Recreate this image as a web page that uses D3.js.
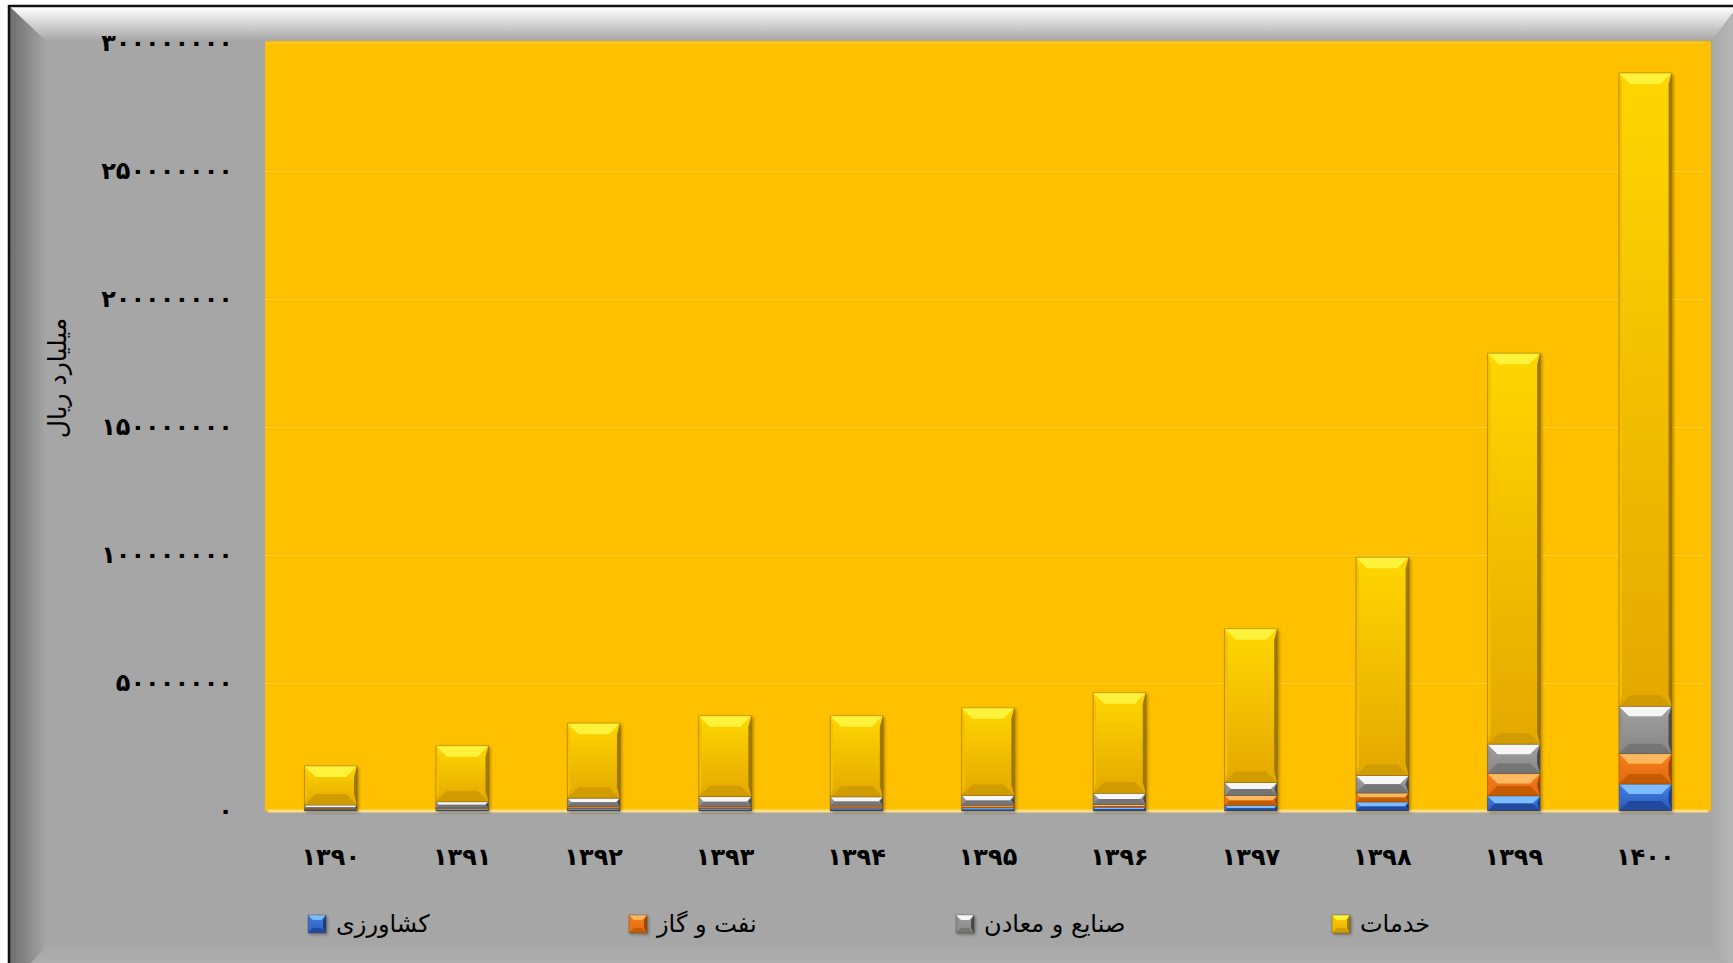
<!DOCTYPE html>
<html>
<head>
<meta charset="utf-8">
<script src="https://cdn.jsdelivr.net/npm/d3@7"></script>
<style>
  body { margin: 0; background: #fff; }
  svg { display: block; font-family: "DejaVu Sans", sans-serif; }
</style>
</head>
<body>
<div id="chart"></div>
<script>
// Data (billion rial)
var years = ["۱۳۹۰", "۱۳۹۱", "۱۳۹۲", "۱۳۹۳", "۱۳۹۴", "۱۳۹۵", "۱۳۹۶", "۱۳۹۷", "۱۳۹۸", "۱۳۹۹", "۱۴۰۰"];
var keshavarzi = [600000, 800000, 1000000, 1000000, 1100000, 1200000, 1500000, 2200000, 3500000, 5900000, 10500000];
var naftGaz = [300000, 400000, 800000, 700000, 800000, 1000000, 1000000, 3900000, 3500000, 8700000, 11900000];
var sanaye = [1400000, 2400000, 3200000, 3900000, 3600000, 3900000, 4400000, 5000000, 6900000, 11500000, 18500000];
var khadamat = [15300000, 21900000, 29300000, 31600000, 31700000, 34200000, 39300000, 60100000, 85200000, 152700000, 247400000];
var seriesKeys = ["keshavarzi", "naftGaz", "sanaye", "khadamat"];
var seriesNames = ["کشاورزی", "نفت و گاز", "صنایع و معادن", "خدمات"];
var yTicks = [0, 50000000, 100000000, 150000000, 200000000, 250000000, 300000000];
var yLabel = "میلیارد ریال";

// Chart dimensions
var W = 1733, H = 963;
var plot = { left: 265, top: 41, right: 1711, bottom: 812 };

// bevel palettes per series
var pal = {
  keshavarzi: { f0: "#4283e6", f1: "#2a57b6", top: "#7cbcff", left: "#3a6fd2", right: "#1d3c88", bottom: "#2449a0" },
  naftGaz:    { f0: "#f7801e", f1: "#e2680f", top: "#ffb85e", left: "#ec7416", right: "#a34700", bottom: "#c65c05" },
  sanaye:     { f0: "#a2a2a2", f1: "#858585", top: "#f6f6f6", left: "#909090", right: "#4a4a4a", bottom: "#747474" },
  khadamat:   { f0: "#ffd600", f1: "#e4a800", top: "#fff23a", left: "#f2c000", right: "#a07900", bottom: "#d09c00" }
};

var table = years.map(function (yr, i) {
  return { year: yr, keshavarzi: keshavarzi[i], naftGaz: naftGaz[i], sanaye: sanaye[i], khadamat: khadamat[i] };
});

function toFa(n) {
  return String(n).replace(/[0-9]/g, function (c) { return "۰۱۲۳۴۵۶۷۸۹"[+c]; });
}

var svg = d3.select("#chart").append("svg").attr("width", W).attr("height", H);
var defs = svg.append("defs");

// gradients
function linGrad(id, x2, y2, stops) {
  var g = defs.append("linearGradient").attr("id", id)
    .attr("x1", 0).attr("y1", 0).attr("x2", x2).attr("y2", y2);
  stops.forEach(function (s) {
    g.append("stop").attr("offset", s[0]).attr("stop-color", s[1]);
  });
}
seriesKeys.forEach(function (k) {
  linGrad("face-" + k, 0, 1, [[0, pal[k].f0], [1, pal[k].f1]]);
});
linGrad("bevTop", 0, 1, [[0, "#ffffff"], [0.15, "#f2f2f2"], [1, "#a6a6a6"]]);
linGrad("bevLeft", 1, 0, [[0, "#6e6e6e"], [1, "#a6a6a6"]]);
linGrad("bevRight", 1, 0, [[0, "#a9a9a9"], [1, "#b8b8b8"]]);
linGrad("bevBottom", 0, 1, [[0, "#a9a9a9"], [1, "#b4b4b4"]]);

var shadow = defs.append("filter").attr("id", "shadow")
  .attr("x", "-20%").attr("y", "-20%").attr("width", "140%").attr("height", "140%");
shadow.append("feDropShadow").attr("dx", 1.5).attr("dy", 1.5).attr("stdDeviation", 1.5)
  .attr("flood-color", "#000").attr("flood-opacity", 0.35);

// Frame with bevelled edges
var fo = { x0: 10, y0: 7, x1: 1737, y1: 985 };
var fi = { x0: 46, y0: 41, x1: 1712, y1: 947 };
svg.append("rect").attr("x", fo.x0).attr("y", fo.y0)
  .attr("width", fo.x1 - fo.x0).attr("height", fo.y1 - fo.y0)
  .attr("fill", "#a6a6a6");
function poly(pts, fill) {
  svg.append("polygon").attr("points", pts.map(function (p) { return p.join(","); }).join(" ")).attr("fill", fill);
}
poly([[fo.x0, fo.y0], [fo.x1, fo.y0], [fi.x1, fi.y0], [fi.x0, fi.y0]], "url(#bevTop)");
poly([[fo.x0, fo.y0], [fi.x0, fi.y0], [fi.x0, fi.y1], [fo.x0, fo.y1]], "url(#bevLeft)");
poly([[fo.x1, fo.y0], [fo.x1, fo.y1], [fi.x1, fi.y1], [fi.x1, fi.y0]], "url(#bevRight)");
poly([[fi.x0, fi.y1], [fi.x1, fi.y1], [fo.x1, fo.y1], [fo.x0, fo.y1]], "url(#bevBottom)");
svg.append("rect").attr("x", fo.x0 - 1).attr("y", fo.y0 - 1)
  .attr("width", fo.x1 - fo.x0 + 2).attr("height", fo.y1 - fo.y0 + 2)
  .attr("fill", "none").attr("stroke", "#111").attr("stroke-width", 2.5);

// Plot area
svg.append("rect").attr("x", plot.left).attr("y", plot.top)
  .attr("width", plot.right - plot.left).attr("height", plot.bottom - plot.top)
  .attr("rx", 3).attr("fill", "#ffc000");

// Scales
var x = d3.scaleBand().domain(years).range([plot.left, plot.right]).paddingInner(0.6).paddingOuter(0.3);
var y = d3.scaleLinear().domain([0, 300000000]).range([811, 43]);

// gridlines
svg.append("g")
  .attr("transform", "translate(" + plot.left + ",0)")
  .call(d3.axisLeft(y).tickValues(yTicks.slice(1)).tickSize(-(plot.right - plot.left - 6)).tickFormat(""))
  .call(function (g) { g.select(".domain").remove(); })
  .selectAll("line").attr("stroke", "#ffcb30").attr("stroke-width", 1.2);

// baseline highlight
svg.append("line").attr("x1", plot.left + 3).attr("x2", plot.right - 3)
  .attr("y1", y(0)).attr("y2", y(0))
  .attr("stroke", "#ffde85").attr("stroke-width", 3);

// Y axis
svg.append("g")
  .attr("transform", "translate(" + plot.left + ",0)")
  .call(d3.axisLeft(y).tickValues(yTicks).tickSize(0).tickPadding(32).tickFormat(function (d) { return toFa(d); }))
  .call(function (g) { g.select(".domain").remove(); })
  .selectAll("text")
  .attr("fill", "#000").style("font-size", "24px").style("font-weight", "bold")
  .attr("font-family", "DejaVu Sans");

// X axis
svg.append("g")
  .attr("transform", "translate(0," + y(0) + ")")
  .call(d3.axisBottom(x).tickSize(0).tickPadding(37))
  .call(function (g) { g.select(".domain").remove(); })
  .selectAll("text")
  .attr("fill", "#000").style("font-size", "24px").style("font-weight", "bold")
  .attr("font-family", "DejaVu Sans");

// Y axis title
svg.append("text")
  .attr("transform", "translate(57,378) rotate(-90)")
  .attr("text-anchor", "middle").attr("dominant-baseline", "central")
  .style("font-size", "25px").attr("fill", "#000")
  .text(yLabel);

// bevelled box
function bevelBox(g, bx, by, w, h, k, bmax) {
  var p = pal[k];
  var b = Math.max(0, Math.min(bmax, w / 2, h / 2));
  g.append("rect").attr("x", bx).attr("y", by).attr("width", w).attr("height", h)
    .attr("fill", "url(#face-" + k + ")");
  function pg(pts, fill) {
    g.append("polygon").attr("points", pts.map(function (q) { return q.join(","); }).join(" ")).attr("fill", fill);
  }
  var s = Math.min(3, b);
  pg([[bx, by], [bx + w, by], [bx + w - b, by + b], [bx + b, by + b]], p.top);
  pg([[bx, by + h], [bx + b, by + h - b], [bx + w - b, by + h - b], [bx + w, by + h]], p.bottom);
  pg([[bx, by], [bx + s, by + b], [bx + s, by + h - b], [bx, by + h]], p.left);
  pg([[bx + w, by], [bx + w, by + h], [bx + w - s, by + h - b], [bx + w - s, by + b]], p.right);
  g.append("rect").attr("x", bx).attr("y", by).attr("width", w).attr("height", h)
    .attr("fill", "none").attr("stroke", "rgba(60,40,0,0.35)").attr("stroke-width", 0.8);
}

// Stacked bars
var stacked = d3.stack().keys(seriesKeys)(table);
var barsG = svg.append("g").attr("filter", "url(#shadow)");
stacked.forEach(function (layer) {
  var k = layer.key;
  layer.forEach(function (d) {
    var y0 = y(d[0]), y1 = y(d[1]);
    bevelBox(barsG, x(d.data.year), y1, x.bandwidth(), y0 - y1, k, k === "khadamat" ? 11 : 10);
  });
});

// Legend
var legendX = [308, 629, 956, 1332];
var legend = svg.append("g").attr("class", "legend");
seriesKeys.forEach(function (k, i) {
  var lg = legend.append("g").attr("filter", "url(#shadow)");
  bevelBox(lg, legendX[i], 915, 18, 18, k, 5);
  legend.append("text")
    .attr("x", legendX[i] + 28).attr("y", 924)
    .attr("dominant-baseline", "central").attr("text-anchor", "start")
    .style("font-size", "24px").attr("fill", "#000")
    .text(seriesNames[i]);
});
</script>
</body>
</html>
